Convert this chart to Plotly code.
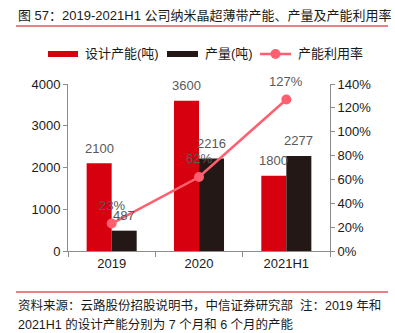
import plotly.graph_objects as go

categories = ["2019", "2020", "2021H1"]
design_capacity = [2100, 3600, 1800]
output = [487, 2216, 2277]
utilization = [0.23, 0.62, 1.27]
util_labels = ["23%", "62%", "127%"]

FONT = "Liberation Sans, Arial, Noto Sans CJK SC"
RED = "#D7000F"
BLACK = "#231815"
PINK = "#FF5F6E"
GRAY_TXT = "#595959"
AXIS = "#8C8C8C"

BARGAP = 0.427
half = (1 - BARGAP) / 4  # offset of each bar centre from category centre

fig = go.Figure()
fig.add_trace(go.Bar(x=categories, y=design_capacity, name="设计产能(吨)",
                     marker=dict(color=RED, line=dict(width=0))))
fig.add_trace(go.Bar(x=categories, y=output, name="产量(吨)",
                     marker=dict(color=BLACK, line=dict(width=0))))
fig.add_trace(go.Scatter(x=categories, y=utilization, name="产能利用率", yaxis="y2",
                         mode="lines+markers",
                         line=dict(color=PINK, width=2.5),
                         marker=dict(color=PINK, size=10), cliponaxis=False))

W, H = 395, 333
L, R, T, B = 68, 330, 84, 251
pw, ph = R - L, B - T

def px(x):
    return (x - L) / pw

def py(y):
    return (B - y) / ph

shapes = []
annotations = []
lab_font = dict(size=13, color=GRAY_TXT, family=FONT)
# data labels
for i, v in enumerate(design_capacity):
    annotations.append(dict(text=str(v), x=i - half, y=v, xref="x", yref="y",
                            yshift=15, showarrow=False, xanchor="center",
                            yanchor="middle", font=lab_font))
for i, v in enumerate(output):
    annotations.append(dict(text=str(v), x=i + half, y=v, xref="x", yref="y",
                            yshift=15, showarrow=False, xanchor="center",
                            yanchor="middle", font=lab_font))
for i, (v, t) in enumerate(zip(utilization, util_labels)):
    annotations.append(dict(text=t, x=i, y=v, xref="x", yref="y2",
                            yshift=18.5, showarrow=False, xanchor="center",
                            yanchor="middle", font=lab_font))
# title
annotations.append(dict(text="图 57：2019-2021H1 公司纳米晶超薄带产能、产量及产能利用率",
                        x=px(16), y=py(15.5), xref="paper", yref="paper",
                        xanchor="left", yanchor="middle", showarrow=False,
                        font=dict(size=13, color="#1a1a1a", family=FONT)))
shapes.append(dict(type="line", xref="paper", yref="paper", x0=px(16), x1=px(388),
                   y0=py(26), y1=py(26), line=dict(color=RED, width=1)))
# legend
shapes.append(dict(type="rect", xref="paper", yref="paper", x0=px(48), x1=px(78),
                   y0=py(57), y1=py(51), fillcolor=RED, line=dict(width=0)))
annotations.append(dict(text="设计产能(吨)", x=px(83), y=py(54), xref="paper", yref="paper",
                        xanchor="left", yanchor="middle", showarrow=False,
                        font=dict(size=13, color="#1a1a1a", family=FONT)))
shapes.append(dict(type="rect", xref="paper", yref="paper", x0=px(167), x1=px(198),
                   y0=py(57), y1=py(51), fillcolor=BLACK, line=dict(width=0)))
annotations.append(dict(text="产量(吨)", x=px(203), y=py(54), xref="paper", yref="paper",
                        xanchor="left", yanchor="middle", showarrow=False,
                        font=dict(size=13, color="#1a1a1a", family=FONT)))
shapes.append(dict(type="line", xref="paper", yref="paper", x0=px(260), x1=px(291),
                   y0=py(54), y1=py(54), line=dict(color=PINK, width=2.5)))
shapes.append(dict(type="circle", xref="paper", yref="paper", x0=px(270.5), x1=px(280.5),
                   y0=py(59), y1=py(49), fillcolor=PINK, line=dict(width=0)))
annotations.append(dict(text="产能利用率", x=px(296), y=py(54), xref="paper", yref="paper",
                        xanchor="left", yanchor="middle", showarrow=False,
                        font=dict(size=13, color="#1a1a1a", family=FONT)))
# footer
shapes.append(dict(type="line", xref="paper", yref="paper", x0=px(16), x1=px(388),
                   y0=py(292), y1=py(292), line=dict(color=RED, width=1)))
annotations.append(dict(text="资料来源：云路股份招股说明书，中信证券研究部  注：2019 年和",
                        x=px(16), y=py(305), xref="paper", yref="paper",
                        xanchor="left", yanchor="middle", showarrow=False,
                        font=dict(size=12.5, color="#1a1a1a", family=FONT)))
annotations.append(dict(text="2021H1 的设计产能分别为 7 个月和 6 个月的产能",
                        x=px(16), y=py(324), xref="paper", yref="paper",
                        xanchor="left", yanchor="middle", showarrow=False,
                        font=dict(size=12.5, color="#1a1a1a", family=FONT)))

fig.update_layout(
    width=W, height=H,
    margin=dict(l=L, r=W - R, t=T, b=H - B, pad=0),
    paper_bgcolor="white", plot_bgcolor="white",
    showlegend=False, barmode="group", bargap=BARGAP, bargroupgap=0,
    font=dict(family=FONT, size=13, color="#1a1a1a"),
    shapes=shapes, annotations=annotations,
    xaxis=dict(type="category", showline=True, linecolor=AXIS, linewidth=1,
               ticks="outside", tickson="boundaries", ticklen=5, tickcolor=AXIS,
               showgrid=False, tickfont=dict(size=13, color="#1a1a1a")),
    yaxis=dict(range=[0, 4000], dtick=1000, showline=True, linecolor=AXIS, linewidth=1,
               ticks="outside", ticklen=4, tickcolor=AXIS, showgrid=False, zeroline=False,
               tickfont=dict(size=13, color="#1a1a1a")),
    yaxis2=dict(range=[0, 1.4], dtick=0.2, tickformat=".0%", overlaying="y", side="right",
                showline=True, linecolor=AXIS, linewidth=1, ticks="outside", ticklen=4,
                tickcolor=AXIS, showgrid=False, zeroline=False,
                tickfont=dict(size=13, color="#1a1a1a")),
)

fig.write_html("out.html")
